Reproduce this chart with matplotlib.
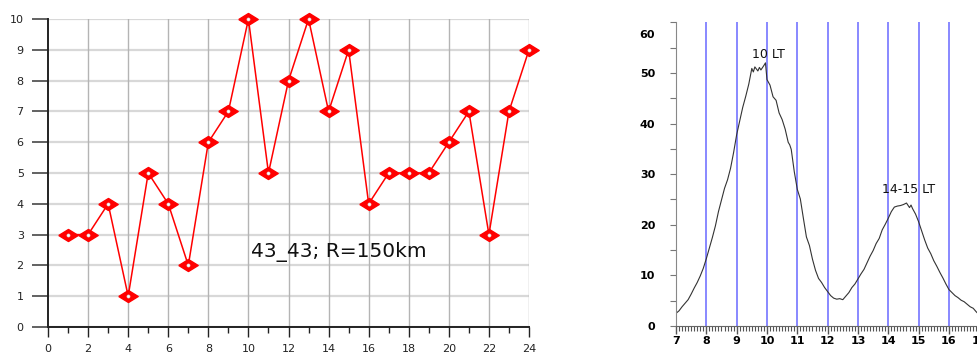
import matplotlib
matplotlib.use("Agg")
import matplotlib.pyplot as plt
import matplotlib.transforms as mtransforms
from matplotlib.ticker import MultipleLocator

# ---- left panel: counts per hour ----
hours = list(range(1, 25))
counts = [3, 3, 4, 1, 5, 4, 2, 6, 7, 10, 5, 8, 10, 7, 9, 4, 5, 5, 5, 6, 7, 3, 7, 9]
label_left = "43_43; R=150km"

# ---- right panel: distribution over local time ----
lt = [7.0, 7.1, 7.2, 7.3, 7.4, 7.5, 7.6, 7.7, 7.8, 7.9,
      8.0, 8.1, 8.2, 8.3, 8.4, 8.5, 8.6, 8.7, 8.8, 8.9,
      9.0, 9.1, 9.2, 9.3, 9.4, 9.5, 9.55, 9.6, 9.7, 9.75, 9.8, 9.9, 9.95,
      10.0, 10.1, 10.2, 10.3, 10.4, 10.5, 10.6, 10.7, 10.75, 10.8, 10.9,
      11.0, 11.1, 11.2, 11.3, 11.4, 11.5, 11.6, 11.7, 11.8, 11.9,
      12.0, 12.1, 12.2, 12.3, 12.4, 12.5, 12.6, 12.7, 12.8, 12.9,
      13.0, 13.1, 13.2, 13.3, 13.4, 13.5, 13.6, 13.7, 13.8, 13.9,
      14.0, 14.1, 14.2, 14.3, 14.4, 14.5, 14.6, 14.7, 14.75, 14.8, 14.9,
      15.0, 15.1, 15.2, 15.3, 15.4, 15.5, 15.6, 15.7, 15.8, 15.9,
      16.0, 16.1, 16.2, 16.3, 16.4, 16.5, 16.6, 16.7, 16.8, 16.9, 16.95]
freq = [2.5, 3.0, 3.8, 4.5, 5.2, 6.3, 7.5, 8.6, 9.9, 11.4,
        13.3, 15.4, 17.5, 19.8, 22.6, 24.9, 27.2, 28.9, 31.2, 34.3,
        37.8, 40.5, 43.2, 45.4, 47.8, 50.9, 50.2, 51.2, 50.4, 51.1, 50.6, 51.5, 52.0,
        48.7, 47.6, 45.3, 44.6, 42.1, 40.8, 38.9, 36.3, 35.8, 34.9, 30.5,
        27.0, 25.1, 21.3, 17.6, 15.9, 13.2, 11.0, 9.4, 8.6, 7.6,
        6.8, 6.0, 5.5, 5.3, 5.4, 5.2, 5.9, 6.6, 7.6, 8.3,
        9.3, 10.3, 11.2, 12.5, 13.8, 14.9, 16.3, 17.3, 19.0, 20.1,
        21.3, 22.6, 23.5, 23.7, 23.8, 24.0, 24.3, 23.4, 23.9, 23.2, 22.1,
        20.6, 18.8, 17.0, 15.4, 14.3, 12.9, 11.8, 10.6, 9.5, 8.3,
        7.2, 6.6, 6.0, 5.6, 5.1, 4.8, 4.3, 3.8, 3.5, 2.8, 2.5]
vlines = [8, 9, 10, 11, 12, 13, 14, 15, 16]
peak_labels = ["10 LT", "14-15 LT"]
peak_pos = [(9.5, 53.6), (13.78, 26.9)]

fig = plt.figure(figsize=(9.78, 3.52), dpi=100)

# ======================= left =======================
ax1 = fig.add_axes([0.0491, 0.0710, 0.4918, 0.875])
ax1.set_xlim(0, 24)
ax1.set_ylim(0, 10)
for y in range(0, 11):
    ax1.axhline(y, color="#d8d8d8", lw=1.6, zorder=0)
for x in range(2, 25, 2):
    ax1.axvline(x, color="#b4b4b4", lw=1.0, zorder=0)

diamond = [(-1, 0), (0, 0.62), (1, 0), (0, -0.62), (-1, 0)]
ax1.plot(hours, counts, color="#ff0000", lw=1.1, marker=diamond, ms=14,
         mfc="#ff0000", mec="#ff0000", zorder=3, clip_on=False)
ax1.plot(hours, counts, ls="none", marker="o", ms=2.2, mfc="white",
         mec="#dddddd", mew=0.5, zorder=4, clip_on=False)
ax1.text(10.13, 2.43, label_left, fontsize=14.5, va="center", ha="left",
         color="#111111")

ax1.xaxis.set_major_locator(MultipleLocator(2))
ax1.xaxis.set_minor_locator(MultipleLocator(1))
ax1.yaxis.set_major_locator(MultipleLocator(1))
ax1.tick_params(axis="x", which="major", length=7, width=1.0, color="#222222",
                labelsize=8, pad=5, labelcolor="#222222")
ax1.tick_params(axis="x", which="minor", length=4, width=1.0, color="#222222")
ax1.tick_params(axis="y", which="major", length=11.5, width=1.3, color="#555555",
                labelsize=8, pad=6, labelcolor="#222222")
for s in ["top", "right"]:
    ax1.spines[s].set_visible(False)
ax1.spines["left"].set_color("#222222")
ax1.spines["left"].set_linewidth(1.4)
ax1.spines["bottom"].set_color("#222222")
ax1.spines["bottom"].set_linewidth(1.4)

# ======================= right =======================
ax2 = fig.add_axes([0.6912, 0.0739, 0.3101, 0.8625])
ax2.set_xlim(7, 17)
ax2.set_ylim(0, 60)
for x in vlines:
    ax2.axvline(x, color="#8888ff", lw=1.4, zorder=1)
ax2.plot(lt, freq, color="#333333", lw=0.8, zorder=2)
for txt, (px, py) in zip(peak_labels, peak_pos):
    ax2.text(px, py, txt, fontsize=9, ha="left", va="center", color="#111111")

ax2.xaxis.set_major_locator(MultipleLocator(1))
ax2.xaxis.set_minor_locator(MultipleLocator(0.1))
ax2.yaxis.set_major_locator(MultipleLocator(10))
ax2.yaxis.set_minor_locator(MultipleLocator(5))
ax2.tick_params(axis="x", which="major", length=5.5, width=1.0, color="#555555",
                labelsize=8, pad=1.5)
ax2.tick_params(axis="x", which="minor", length=3.5, width=0.8, color="#555555")
ax2.tick_params(axis="y", which="both", length=4, width=0.8, color="#777777",
                labelsize=8, pad=11)
for lab in ax2.get_xticklabels() + ax2.get_yticklabels():
    lab.set_fontweight("bold")
for s in ["top", "right"]:
    ax2.spines[s].set_visible(False)
ax2.spines["left"].set_color("#888888")
ax2.spines["bottom"].set_color("#666666")

fig.canvas.draw()
# the topmost label sits a little below its tick in the original
for lab in ax2.get_yticklabels():
    if lab.get_text() == "60":
        lab.set_transform(lab.get_transform() +
                          mtransforms.ScaledTranslation(0, -12 / 100, fig.dpi_scale_trans))

fig.savefig("out.png", dpi=100)
